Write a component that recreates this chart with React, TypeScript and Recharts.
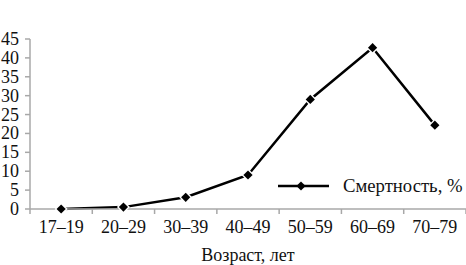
import React from 'react';
import { LineChart, Line, XAxis, YAxis, Legend, Label } from 'recharts';

const categories = ['17–19', '20–29', '30–39', '40–49', '50–59', '60–69', '70–79'];
const mortality = [0, 0.5, 3.1, 9, 29, 42.7, 22.2];
const yTicks = [0, 5, 10, 15, 20, 25, 30, 35, 40, 45];
const seriesName = 'Смертность, %';
const xTitle = 'Возраст, лет';

const data = categories.map((c, i) => ({ age: c, value: mortality[i] }));

const FONT = 'Liberation Serif, Times New Roman, serif';
const AXIS = '#a8a8a8';
const TEXT = '#111';
const HALF_BAND = 436 / 14;
const FS = 18;

const Diamond = (props: any) => {
  const { cx, cy } = props;
  if (cx == null || cy == null) return null;
  const w = 6.5;
  const b = 4.6;
  return (
    <g>
      <polygon points={`${cx},${cy - w} ${cx + w},${cy} ${cx},${cy + w} ${cx - w},${cy}`} fill="#fff" />
      <polygon points={`${cx},${cy - b} ${cx + b},${cy} ${cx},${cy + b} ${cx - b},${cy}`} fill="#000" />
    </g>
  );
};

const XTick = (props: any) => {
  const { x, y, payload, index } = props;
  return (
    <g>
      <line x1={x - HALF_BAND} y1={y} x2={x - HALF_BAND} y2={y + 5} stroke={AXIS} strokeWidth={1.5} />
      {index === categories.length - 1 && (
        <line x1={x + HALF_BAND} y1={y} x2={x + HALF_BAND} y2={y + 5} stroke={AXIS} strokeWidth={1.5} />
      )}
      <text x={x} y={y + 24} textAnchor="middle" style={{ fontSize: FS, fontFamily: FONT }} fill={TEXT}>
        {payload.value}
      </text>
    </g>
  );
};

const YTick = (props: any) => {
  const { x, y, payload } = props;
  return (
    <text x={x} y={y + 6} textAnchor="end" style={{ fontSize: FS, fontFamily: FONT }} fill={TEXT}>
      {payload.value}
    </text>
  );
};

const LegendContent = () => (
  <svg width={200} height={30} style={{ overflow: 'visible' }}>
    <line x1={8} y1={14} x2={59} y2={14} stroke="#000" strokeWidth={2.5} />
    <polygon points={`31,${14 - 4.6} ${31 + 4.6},14 31,${14 + 4.6} ${31 - 4.6},14`} fill="#000" />
    <text x={73} y={20} style={{ fontSize: 18.7, fontFamily: FONT }} fill={TEXT}>
      {seriesName}
    </text>
  </svg>
);

export default function App() {
  return (
    <div style={{ position: 'absolute', left: 0, top: 0, width: 466, height: 265, background: '#fff', fontFamily: FONT }}>
      <LineChart width={466} height={265} data={data} margin={{ top: 5, right: 0, left: 0, bottom: 0 }}>
        <XAxis
          dataKey="age"
          height={56}
          padding={{ left: HALF_BAND, right: HALF_BAND }}
          axisLine={{ stroke: AXIS, strokeWidth: 1.5 }}
          tickLine={false}
          tickSize={0}
          tickMargin={0}
          interval={0}
          tick={<XTick />}
        >
          <Label
            content={(p: any) => {
              const vb = p.viewBox || {};
              return (
                <text x={vb.x + vb.width / 2} y={261} textAnchor="middle" style={{ fontSize: FS, fontFamily: FONT }} fill={TEXT}>
                  {xTitle}
                </text>
              );
            }}
          />
        </XAxis>
        <YAxis
          width={30}
          domain={[0, 45]}
          ticks={yTicks}
          interval={0}
          axisLine={{ stroke: AXIS, strokeWidth: 1.5 }}
          tickLine={{ stroke: AXIS, strokeWidth: 1.5 }}
          tickSize={5}
          tickMargin={6}
          tick={<YTick />}
        />
        <Legend
          verticalAlign="top"
          align="left"
          wrapperStyle={{ position: 'absolute', left: 270, top: 172, width: 200 }}
          content={<LegendContent />}
        />
        <Line
          type="linear"
          dataKey="value"
          name={seriesName}
          stroke="#000"
          strokeWidth={2.5}
          dot={<Diamond />}
          activeDot={false}
          isAnimationActive={false}
        />
      </LineChart>
    </div>
  );
}
